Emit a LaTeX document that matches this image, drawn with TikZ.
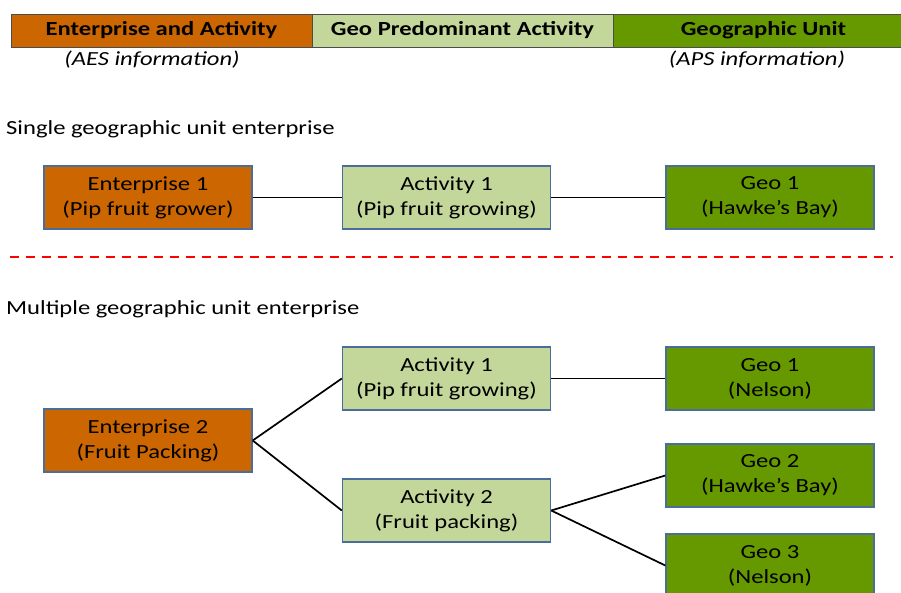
\documentclass[tikz,border=0pt]{standalone}
\usepackage{fontspec}
\setmainfont{Carlito}[FakeStretch=1.23]
\definecolor{entcol}{HTML}{CC6600}
\definecolor{actcol}{HTML}{C4D79B}
\definecolor{geocol}{HTML}{669900}
\definecolor{edgecol}{HTML}{4A6E9A}
\tikzset{
  unit/.style = {draw=edgecol, line width=1.4pt, minimum width=208pt, minimum height=63pt,
    align=center, font=\fontsize{20}{25}\selectfont, inner sep=0pt},
  band/.style = {draw=black!70, line width=0.8pt, minimum height=33pt, inner sep=0pt,
    font=\fontsize{20}{24}\selectfont\bfseries},
  link/.style = {line width=1.7pt},
  caption/.style = {anchor=west, font=\fontsize{20}{24}\selectfont, inner sep=0pt}
}

\begin{document}
\begin{tikzpicture}[x=1pt,y=-1pt]
  \useasboundingbox (0,0) rectangle (901,593);
  % legend band
  \node[band, fill=entcol, minimum width=301pt] (hent) at (161.5,30.5) {Enterprise and Activity};
  \node[band, fill=actcol, minimum width=301pt] (hact) at (462.5,30.5) {Geo Predominant Activity};
  \node[band, fill=geocol, minimum width=301pt] (hgeo) at (763.5,30.5) {Geographic Unit};
  \node[font=\fontsize{20}{24}\selectfont\itshape] (aes) at (152,60) {(AES information)};
  \node[font=\fontsize{20}{24}\selectfont\itshape] (aps) at (757,60) {(APS information)};

  % single unit case
  \node[caption] (single) at (6,129) {Single geographic unit enterprise};
  \node[unit, fill=entcol] (ent1) at (148,197.5) {Enterprise 1\\(Pip fruit grower)};
  \node[unit, fill=actcol] (act1) at (446.5,197.5) {Activity 1\\(Pip fruit growing)};
  \node[unit, fill=geocol] (geo1) at (770,197.5) {Geo 1\\(Hawke’s Bay)};
  \draw[link] (ent1) -- (act1);
  \draw[link] (act1) -- (geo1);

  % separator
  \coordinate (sepl) at (10,257);
  \coordinate (sepr) at (893,257);
  \draw[red, line width=1.6pt, dash pattern=on 9pt off 7pt] (sepl) -- (sepr);

  % multiple unit case
  \node[caption] (multi) at (6,309) {Multiple geographic unit enterprise};
  \node[unit, fill=entcol] (ent2) at (148,440.5) {Enterprise 2\\(Fruit Packing)};
  \node[unit, fill=actcol] (act2a) at (446.5,378.5) {Activity 1\\(Pip fruit growing)};
  \node[unit, fill=actcol] (act2b) at (446.5,510.5) {Activity 2\\(Fruit packing)};
  \node[unit, fill=geocol] (geo2a) at (770,378.5) {Geo 1\\(Nelson)};
  \node[unit, fill=geocol] (geo2b) at (770,475.5) {Geo 2\\(Hawke’s Bay)};
  \node[unit, fill=geocol] (geo2c) at (770,565.5) {Geo 3\\(Nelson)};
  \draw[link] (ent2.east) -- (act2a.west);
  \draw[link] (ent2.east) -- (act2b.west);
  \draw[link] (act2a) -- (geo2a);
  \draw[link] (act2b.east) -- (geo2b.west);
  \draw[link] (act2b.east) -- (geo2c.west);
\end{tikzpicture}
\end{document}
